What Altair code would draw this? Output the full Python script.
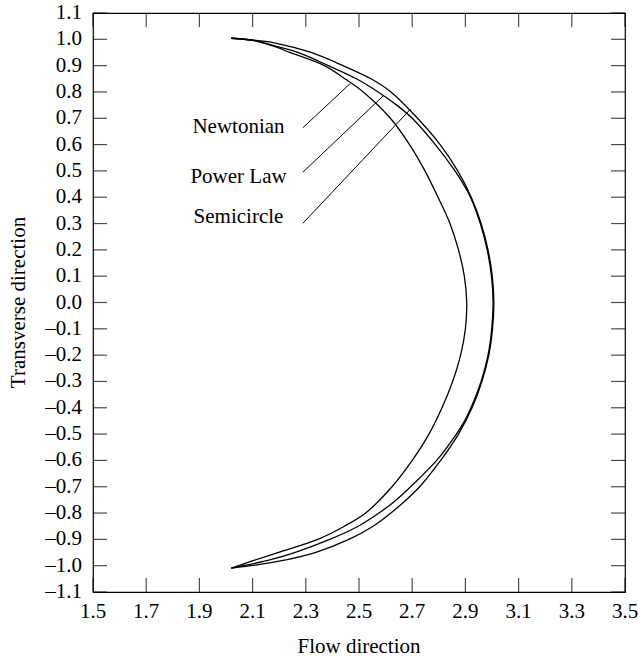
import altair as alt
import pandas as pd

# ---- curve data (x = flow direction, y = transverse direction) ----
semi_y = [1.004, 0.995, 0.985, 0.95, 0.90, 0.85, 0.80, 0.70, 0.60, 0.50, 0.40, 0.30, 0.20, 0.10, 0.00,
          -0.10, -0.20, -0.30, -0.40, -0.50, -0.60, -0.70, -0.80, -0.85, -0.90, -0.95, -0.985, -0.998, -1.009]
semi_x = [2.020, 2.120, 2.190, 2.320, 2.440, 2.545, 2.620, 2.720, 2.805, 2.871, 2.922, 2.959, 2.985, 3.001, 3.007,
          3.002, 2.988, 2.962, 2.925, 2.874, 2.807, 2.728, 2.620, 2.553, 2.462, 2.335, 2.190, 2.110, 2.020]

power_y = [1.004, 0.995, 0.975, 0.95, 0.90, 0.85, 0.80, 0.75, 0.70, 0.60, 0.50, 0.44, 0.40, 0.30, 0.20, 0.10,
           0.00, -0.10, -0.20, -0.30, -0.40, -0.45, -0.50, -0.60, -0.70, -0.75, -0.80, -0.85, -0.90, -0.95,
           -0.975, -0.995, -1.009]
power_x = [2.020, 2.110, 2.183, 2.270, 2.385, 2.490, 2.572, 2.642, 2.700, 2.787, 2.861, 2.898, 2.919, 2.956,
           2.982, 2.998, 3.004, 2.999, 2.985, 2.959, 2.921, 2.897, 2.866, 2.792, 2.694, 2.640, 2.575, 2.497,
           2.390, 2.258, 2.175, 2.090, 2.020]

newt_y = [1.004, 0.995, 0.97, 0.95, 0.90, 0.85, 0.80, 0.70, 0.60, 0.50, 0.40, 0.30, 0.20, 0.10, 0.00,
          -0.10, -0.20, -0.30, -0.40, -0.50, -0.60, -0.70, -0.80, -0.85, -0.90, -0.95, -0.985, -1.009]
newt_x = [2.020, 2.105, 2.190, 2.240, 2.370, 2.447, 2.516, 2.618, 2.690, 2.748, 2.797, 2.842, 2.874, 2.896, 2.905,
          2.900, 2.882, 2.852, 2.812, 2.763, 2.700, 2.624, 2.525, 2.445, 2.345, 2.195, 2.090, 2.020]

# ---- annotations ----
label_names = ["Newtonian", "Power Law", "Semicircle"]
label_x = [2.047, 2.047, 2.047]
label_y = [0.668, 0.478, 0.326]
lead_x0 = [2.289, 2.289, 2.289]
lead_y0 = [0.664, 0.495, 0.301]
lead_x1 = [2.468, 2.592, 2.693]
lead_y1 = [0.833, 0.786, 0.734]

# ---- axis ticks and their labels ----
x_ticks = [1.5, 1.7, 1.9, 2.1, 2.3, 2.5, 2.7, 2.9, 3.1, 3.3, 3.5]
x_tick_labels = ["1.5", "1.7", "1.9", "2.1", "2.3", "2.5", "2.7", "2.9", "3.1", "3.3", "3.5"]
y_ticks = [-1.1, -1.0, -0.9, -0.8, -0.7, -0.6, -0.5, -0.4, -0.3, -0.2, -0.1, 0.0,
           0.1, 0.2, 0.3, 0.4, 0.5, 0.6, 0.7, 0.8, 0.9, 1.0, 1.1]
y_tick_labels = ["\u20131.1", "\u20131.0", "\u20130.9", "\u20130.8", "\u20130.7", "\u20130.6",
                 "\u20130.5", "\u20130.4", "\u20130.3", "\u20130.2", "\u20130.1", "0.0",
                 "0.1", "0.2", "0.3", "0.4", "0.5", "0.6", "0.7", "0.8", "0.9", "1.0", "1.1"]
x_title = "Flow direction"
y_title = "Transverse direction"
x_domain = [1.5, 3.5]
y_domain = [-1.1, 1.1]

rows = []
for name, xs_, ys_ in [("Semicircle", semi_x, semi_y), ("Power Law", power_x, power_y),
                       ("Newtonian", newt_x, newt_y)]:
    for i, (a, b) in enumerate(zip(xs_, ys_)):
        rows.append({"series": name, "idx": i, "x": a, "y": b})
curves = pd.DataFrame(rows)

labels_df = pd.DataFrame({"name": label_names, "x": label_x, "y": label_y})
leaders_df = pd.DataFrame({"x0": lead_x0, "y0": lead_y0, "x1": lead_x1, "y1": lead_y1})
xt_df = pd.DataFrame({"v": x_ticks, "lab": x_tick_labels})
yt_df = pd.DataFrame({"v": y_ticks, "lab": y_tick_labels})

FONT = "Liberation Serif"
FS = 21
TICK = 14
W, H = 532, 579

xsc = alt.Scale(domain=x_domain, nice=False, zero=False)
ysc = alt.Scale(domain=y_domain, nice=False, zero=False)


def X(field):
    return alt.X(field, scale=xsc, axis=None)


def Y(field):
    return alt.Y(field, scale=ysc, axis=None)


lines = alt.Chart(curves).mark_line(
    color="black", strokeWidth=1.3, interpolate="catmull-rom"
).encode(x=X("x:Q"), y=Y("y:Q"), detail="series:N", order="idx:Q")

leaders = alt.Chart(leaders_df).mark_rule(color="black", strokeWidth=1).encode(
    x=X("x0:Q"), y=Y("y0:Q"), x2="x1:Q", y2="y1:Q"
)

texts = alt.Chart(labels_df).mark_text(
    font=FONT, fontSize=FS, align="center", baseline="middle", color="black"
).encode(x=X("x:Q"), y=Y("y:Q"), text="name:N")

# inward tick marks on all four sides
half = TICK / 2
tick_bottom = alt.Chart(xt_df).mark_tick(
    orient="vertical", size=TICK, thickness=1.2, color="black", yOffset=-half
).encode(x=X("v:Q"), y=alt.YDatum(y_domain[0], scale=ysc, axis=None))
tick_top = alt.Chart(xt_df).mark_tick(
    orient="vertical", size=TICK, thickness=1.2, color="black", yOffset=half
).encode(x=X("v:Q"), y=alt.YDatum(y_domain[1], scale=ysc, axis=None))
tick_left = alt.Chart(yt_df).mark_tick(
    orient="horizontal", size=TICK, thickness=1.2, color="black", xOffset=half
).encode(y=Y("v:Q"), x=alt.XDatum(x_domain[0], scale=xsc, axis=None))
tick_right = alt.Chart(yt_df).mark_tick(
    orient="horizontal", size=TICK, thickness=1.2, color="black", xOffset=-half
).encode(y=Y("v:Q"), x=alt.XDatum(x_domain[1], scale=xsc, axis=None))

# tick labels
x_labels = alt.Chart(xt_df).mark_text(
    font=FONT, fontSize=FS, align="center", baseline="top", yOffset=9, color="black"
).encode(x=X("v:Q"), y=alt.YDatum(y_domain[0], scale=ysc, axis=None), text="lab:N")
y_labels = alt.Chart(yt_df).mark_text(
    font=FONT, fontSize=FS, align="right", baseline="middle", xOffset=-11, color="black"
).encode(y=Y("v:Q"), x=alt.XDatum(x_domain[0], scale=xsc, axis=None), text="lab:N")

# axis titles
x_title_mark = alt.Chart(pd.DataFrame({"t": [x_title]})).mark_text(
    font=FONT, fontSize=FS, align="center", baseline="alphabetic", color="black"
).encode(x=alt.value(W / 2), y=alt.value(H + 61), text="t:N")
y_title_mark = alt.Chart(pd.DataFrame({"t": [y_title]})).mark_text(
    font=FONT, fontSize=FS, align="center", baseline="alphabetic", angle=270, color="black"
).encode(x=alt.value(-68), y=alt.value(H / 2), text="t:N")

chart = alt.layer(
    lines, leaders, texts, tick_bottom, tick_top, tick_left, tick_right,
    x_labels, y_labels, x_title_mark, y_title_mark
).properties(
    width=W, height=H,
    autosize=alt.AutoSizeParams(type="none"),
    padding={"left": 93, "top": 13, "right": 13, "bottom": 64},
    background="white",
).configure_view(
    stroke="black", strokeWidth=1.2
)

chart.save("out.html", embed_options={"renderer": "svg", "actions": False})
